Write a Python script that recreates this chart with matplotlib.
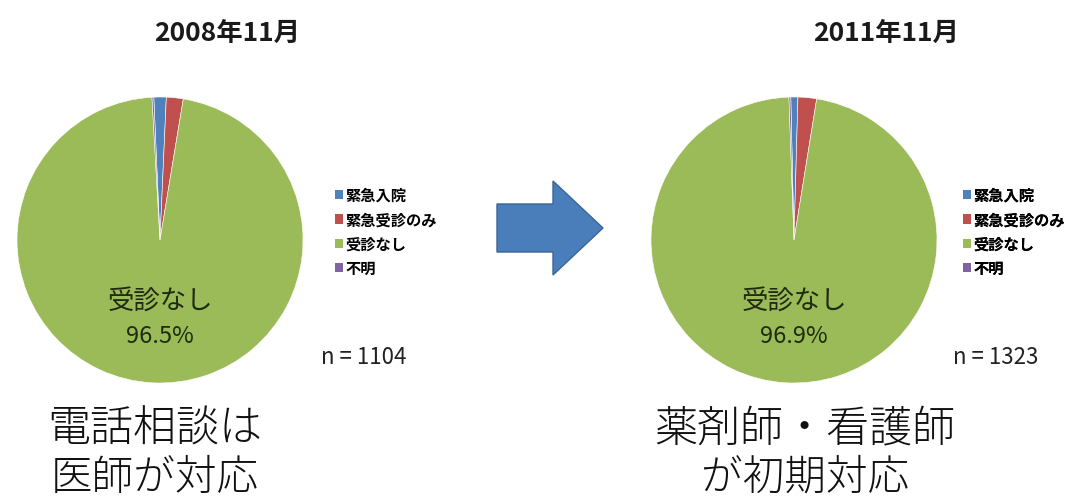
#import libraries
import matplotlib
matplotlib.use('Agg')
import matplotlib.pyplot as plt
import matplotlib.patches as mpatches

plt.rcParams['font.family'] = ['Noto Sans CJK JP', 'DejaVu Sans']

#Data Definition
categories = ['緊急入院', '緊急受診のみ', '受診なし', '不明']
colors = ['#4F81BD', '#C0504D', '#9BBB59', '#8064A2']
titles = ['2008年11月', '2011年11月']
share_2008 = [1.4, 1.9, 96.5, 0.2]
share_2011 = [0.8, 2.1, 96.9, 0.2]
sizes_n = [1104, 1323]
captions = [['電話相談は', '医師が対応'], ['薬剤師・看護師', 'が初期対応']]

W, H = 1082, 502

#Create Figure
fig = plt.figure(figsize=(W / 100, H / 100), dpi=100)


def px_axes(cx, cy, r):
    return fig.add_axes([(cx - r) / W, 1 - (cy + r) / H, 2 * r / W, 2 * r / H])


panels = [
    dict(vals=share_2008, cx=160, cy=241, tx=227, lx=335, nx=364, capx=155, start=92.5),
    dict(vals=share_2011, cx=794, cy=241, tx=886, lx=963, nx=996, capx=805, start=91.3),
]

wedge_sets = []
for p in panels:
    ax = px_axes(p['cx'], p['cy'], 143)
    wedges, _ = ax.pie(p['vals'], colors=colors, startangle=p['start'], counterclock=False,
                       radius=1, wedgeprops=dict(edgecolor='white', linewidth=0.4))
    ax.set_xlim(-1, 1)
    ax.set_ylim(-1, 1)
    ax.set_aspect('equal')
    ax.axis('off')
    wedge_sets.append(wedges)

#Overlay for texts and the arrow (pixel coordinates)
ov = fig.add_axes([0, 0, 1, 1])
ov.set_xlim(0, W)
ov.set_ylim(H, 0)
ov.axis('off')
ov.patch.set_visible(False)

for i, p in enumerate(panels):
    ov.text(p['tx'], 33, titles[i], ha='center', va='center', fontsize=19,
            fontweight='bold', color='#1a1a1a')
    green = p['vals'][2]
    ov.text(p['cx'], 302, categories[2], ha='center', va='center', fontsize=19, color='#1f2a10')
    ov.text(p['cx'], 337, f'{green:.1f}%', ha='center', va='center', fontsize=17, color='#1f2a10')
    ov.text(p['nx'], 358, f'n = {sizes_n[i]}', ha='center', va='center', fontsize=16, color='#222222')
    ov.text(p['capx'], 429, captions[i][0], ha='center', va='center', fontsize=31,
            fontweight='light', color='#111111')
    ov.text(p['capx'], 478, captions[i][1], ha='center', va='center', fontsize=30,
            fontweight='light', color='#111111')
    leg = ov.legend(wedge_sets[i], categories, loc='upper left',
                    bbox_to_anchor=(p['lx'] / W, 1 - 188 / H), bbox_transform=fig.transFigure,
                    frameon=False, fontsize=11, handlelength=0.55, handleheight=0.55,
                    handletextpad=0.15, labelspacing=0.55, borderaxespad=0, borderpad=0)
    for t in leg.get_texts():
        t.set_fontweight('bold')
    for h in leg.legend_handles:
        h.set_edgecolor('none')
    ov.add_artist(leg)

arrow = mpatches.FancyArrow(497, 229, 106, 0, width=48, head_width=94, head_length=50,
                            length_includes_head=True, facecolor='#4A7EBB', edgecolor='#3A6597',
                            linewidth=1)
ov.add_patch(arrow)

#Save Plot
plt.savefig('out.png', dpi=100)
